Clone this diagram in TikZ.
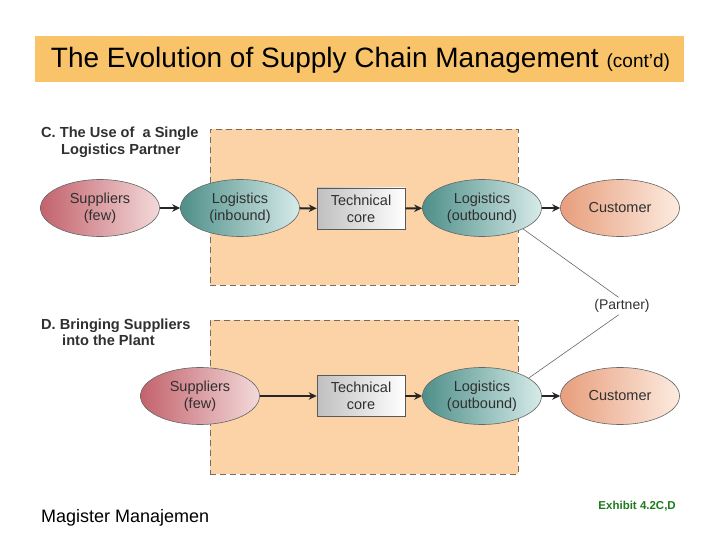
\documentclass[tikz,border=0pt]{standalone}
\usepackage{fontspec}
\setmainfont{Liberation Sans}
\usetikzlibrary{shapes.geometric,arrows.meta}
\definecolor{banner}{HTML}{F9C469}
\definecolor{peach}{HTML}{FCD3A6}
\definecolor{dashc}{HTML}{7A6A5A}
\definecolor{txt}{HTML}{303030}
\definecolor{supL}{HTML}{C3636C}
\definecolor{supR}{HTML}{F3D9DA}
\definecolor{tealL}{HTML}{4F8F89}
\definecolor{tealR}{HTML}{D6EBE9}
\definecolor{cusL}{HTML}{E89E7C}
\definecolor{cusR}{HTML}{FCEBE0}
\definecolor{exgreen}{HTML}{1F7A1F}
\tikzset{
  oval/.style={ellipse, draw=black!60, line width=0.6pt, minimum width=119pt, minimum height=57pt, inner sep=0pt, align=center, text=txt, font=\fontsize{14.5}{17}\selectfont, shading angle=90},
  supp/.style={oval, left color=supL, right color=supR},
  logi/.style={oval, left color=tealL, right color=tealR},
  cust/.style={oval, left color=cusL, right color=cusR},
  corebox/.style={rectangle, draw=black!65, line width=0.6pt, minimum width=88pt, minimum height=41pt, inner sep=0pt, align=center, text=txt, font=\fontsize{14.5}{17}\selectfont, left color=black!25, right color=white},
  zone/.style={rectangle, draw=dashc, fill=peach, line width=0.7pt, dash pattern=on 6pt off 4pt, inner sep=0pt},
  flow/.style={line width=2pt, draw=black!85, -{Stealth[length=8pt,width=7.5pt]}},
  partnerline/.style={line width=0.6pt, draw=black!60},
  sectlabel/.style={anchor=base west, text=txt, font=\bfseries\fontsize{14.6}{17}\selectfont, inner sep=0pt},
}
\begin{document}
\begin{tikzpicture}[x=1pt,y=-1pt]
\useasboundingbox (0,0) rectangle (720,540);
% title
\node[fill=banner, minimum width=649pt, minimum height=46pt, inner sep=0pt] (title) at (359.5,59) {};
\node[inner sep=0pt] (titletext) at (360.5,60) {\fontsize{28}{32}\selectfont The Evolution of Supply Chain Management {\fontsize{19}{22}\selectfont (cont’d)}};
% zones
\node[zone, minimum width=308pt, minimum height=156pt] (boxC) at (364,207) {};
\node[zone, minimum width=308pt, minimum height=154pt] (boxD) at (364,397) {};
% section labels
\node[sectlabel] (labC1) at (41,138) {C. The Use of\ \ a Single};
\node[sectlabel] (labC2) at (61,155) {Logistics Partner};
\node[sectlabel] (labD1) at (41,329) {D. Bringing Suppliers};
\node[sectlabel] (labD2) at (62,345) {into the Plant};
% row C
\node[supp] (supC) at (100,208) {Suppliers\\(few)};
\node[logi] (inC) at (240,208) {Logistics\\(inbound)};
\node[corebox] (coreC) at (361,208.5) {Technical\\core};
\node[logi] (outC) at (482,208) {Logistics\\(outbound)};
\node[cust] (cusC) at (620,208) {Customer};
\draw[flow] (supC) -- (inC);
\draw[flow] (inC) -- (coreC);
\draw[flow] (coreC) -- (outC);
\draw[flow] (outC) -- (cusC);
% row D
\node[supp] (supD) at (200,396) {Suppliers\\(few)};
\node[corebox] (coreD) at (361,396) {Technical\\core};
\node[logi] (outD) at (482,396) {Logistics\\(outbound)};
\node[cust] (cusD) at (620,396) {Customer};
\draw[flow] (supD) -- (coreD);
\draw[flow] (coreD) -- (outD);
\draw[flow] (outD) -- (cusD);
% partner
\node[text=txt, font=\fontsize{14}{16}\selectfont, inner sep=2pt] (partner) at (622,306) {(Partner)};
\draw[partnerline] (outC.-27) -- (partner.112);
\draw[partnerline] (outD.21) -- (partner.250);
% footer
\node[anchor=base west, inner sep=0pt, font=\fontsize{18}{21}\selectfont] (mm) at (41,522) {Magister Manajemen};
\node[anchor=base east, inner sep=0pt, text=exgreen, font=\bfseries\fontsize{11.5}{14}\selectfont] (exh) at (676,509) {Exhibit 4.2C,D};
\end{tikzpicture}
\end{document}
